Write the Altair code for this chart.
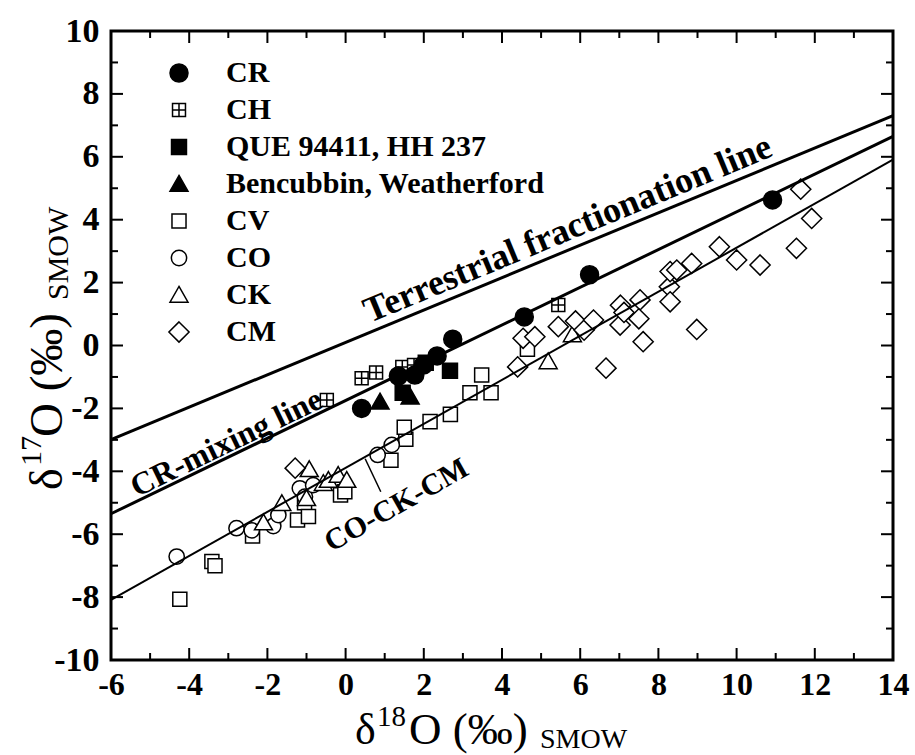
import math
import altair as alt
import pandas as pd

# ---------------- data ----------------
groups = ["CR", "CH", "QUE 94411, HH 237", "Bencubbin, Weatherford", "CV", "CO", "CK", "CM"]

cr_x = [0.41, 1.35, 1.77, 1.99, 2.34, 2.74, 4.57, 6.24, 10.92]
cr_y = [-2.00, -0.97, -0.94, -0.62, -0.33, 0.20, 0.91, 2.25, 4.63]

ch_x = [-0.48, 0.41, 0.78, 1.45, 1.75, 5.44]
ch_y = [-1.73, -1.04, -0.86, -0.68, -0.62, 1.29]

que_x = [1.46, 2.05, 2.67]
que_y = [-1.50, -0.55, -0.80]

ben_x = [0.88, 1.65]
ben_y = [-1.79, -1.63]

cv_x = [-4.24, -3.42, -3.34, -2.38, -1.23, -1.05, -0.95, -0.13, -0.02, 1.16, 1.54, 1.50,
        2.16, 2.68, 3.18, 3.72, 3.48, 4.65]
cv_y = [-8.07, -6.87, -7.00, -6.06, -5.55, -5.00, -5.44, -4.75, -4.65, -3.65, -2.98, -2.60,
        -2.42, -2.19, -1.50, -1.50, -0.94, -0.12]

co_x = [-4.32, -2.79, -2.40, -1.85, -1.72, -1.17, -1.04, -0.83, 0.82, 1.18]
co_y = [-6.71, -5.81, -5.88, -5.74, -5.39, -4.54, -4.81, -4.44, -3.48, -3.16]

ck_x = [-2.10, -1.63, -1.00, -0.93, -0.57, -0.44, -0.19, 0.03, 5.18, 5.80]
ck_y = [-5.63, -5.02, -4.86, -3.94, -4.38, -4.28, -4.12, -4.28, -0.51, 0.35]

cm_x = [-1.29, 4.40, 4.54, 4.84, 5.44, 5.88, 6.10, 6.34, 6.66, 7.02, 7.03, 7.12, 7.53, 7.50,
        7.61, 8.28, 8.30, 8.30, 8.47, 8.85, 8.98, 9.56, 10.00, 10.60, 11.53, 11.64, 11.92]
cm_y = [-3.90, -0.68, 0.23, 0.28, 0.60, 0.78, 0.49, 0.81, -0.72, 0.65, 1.28, 1.05, 1.45, 0.85,
        0.12, 1.87, 1.39, 2.35, 2.40, 2.61, 0.51, 3.14, 2.72, 2.56, 3.09, 4.97, 4.04]

# reference lines: slope and intercept
line_names = ["Terrestrial fractionation line", "CR-mixing line", "CO-CK-CM"]
line_slopes = [0.515, 0.60, 0.70]
line_intercepts = [0.10, -1.75, -3.89]
x_min, x_max = -6, 14
y_min, y_max = -10, 10

# annotation labels (data coordinates)
ann_text = ["Terrestrial fractionation line", "CR-mixing line", "CO-CK-CM"]
ann_x = [5.68, -3.05, 1.30]
ann_y = [3.70, -3.10, -5.08]

leader_x = [0.50, 0.90]
leader_y = [-3.60, -4.65]

x_tick_labels = list(range(-6, 15, 2))
y_tick_labels = list(range(-10, 11, 2))
x_minor = list(range(-5, 14, 2))
y_minor = list(range(-9, 10, 2))
x_major = list(range(-4, 13, 2))
y_major = list(range(-8, 9, 2))

# ---------------- layout ----------------
W, H = 782, 629
FONT = "Liberation Serif"

xs = alt.Scale(domain=[x_min, x_max], nice=False, zero=False)
ys = alt.Scale(domain=[y_min, y_max], nice=False, zero=False)

label_expr = "datum.value < 0 ? '-' + abs(datum.value) : '' + datum.value"

x_axis = alt.Axis(title=None, values=x_tick_labels, labelExpr=label_expr, ticks=False,
                  domain=False, grid=False, labelFont=FONT, labelFontSize=32,
                  labelFontWeight="bold", labelColor="black", labelPadding=9,
                  labelFlush=False, labelOverlap=False)
y_axis = alt.Axis(title=None, values=y_tick_labels, labelExpr=label_expr, ticks=False,
                  domain=False, grid=False, labelFont=FONT, labelFontSize=34,
                  labelFontWeight="bold", labelColor="black", labelPadding=12,
                  labelOverlap=False)


def X(field):
    return alt.X(field, scale=xs, axis=x_axis)


def Y(field):
    return alt.Y(field, scale=ys, axis=y_axis)


circ = "M-0.85,0A0.85,0.85,0,1,0,0.85,0A0.85,0.85,0,1,0,-0.85,0Z"
shape_range = [
    "circle",
    "M-0.72,-0.72L0.72,-0.72L0.72,0.72L-0.72,0.72Z M0,-0.72L0,0.72 M-0.72,0L0.72,0",
    "M-0.83,-0.83L0.83,-0.83L0.83,0.83L-0.83,0.83Z",
    "M0,-0.95L1,0.8L-1,0.8Z",
    "M-0.78,-0.78L0.78,-0.78L0.78,0.78L-0.78,0.78Z",
    circ,
    "M0,-0.95L1,0.8L-1,0.8Z",
    "M0,-1.12L1.12,0L0,1.12L-1.12,0Z",
]
fill_range = ["black", "white", "black", "black", "white", "white", "white", "white"]
stroke_range = ["black"] * len(groups)

leg = alt.Legend(title=None, orient="none", legendX=53, legendY=27, labelFont=FONT,
                 labelFontSize=30, labelFontWeight="bold", labelColor="black",
                 labelOffset=32, rowPadding=7, symbolSize=324, symbolStrokeColor="black",
                 symbolStrokeWidth=1.5, padding=0, labelLimit=600)

# ---------------- points ----------------
draw_order = [("CH", ch_x, ch_y), ("CV", cv_x, cv_y), ("CO", co_x, co_y), ("CK", ck_x, ck_y),
              ("CM", cm_x, cm_y), ("QUE 94411, HH 237", que_x, que_y),
              ("Bencubbin, Weatherford", ben_x, ben_y), ("CR", cr_x, cr_y)]
rows = []
for g, gx, gy in draw_order:
    for a, b in zip(gx, gy):
        rows.append({"g": g, "x": a, "y": b})
pts = pd.DataFrame(rows)

points = alt.Chart(pts).mark_point(strokeWidth=1.5, opacity=1, size=324).encode(
    x=X("x:Q"),
    y=Y("y:Q"),
    shape=alt.Shape("g:N", scale=alt.Scale(domain=groups, range=shape_range), legend=leg),
    fill=alt.Fill("g:N", scale=alt.Scale(domain=groups, range=fill_range), legend=leg),
    stroke=alt.Stroke("g:N", scale=alt.Scale(domain=groups, range=stroke_range), legend=leg),
)

layers = [points]

# ---------------- reference lines ----------------
widths = [3, 3, 2]
for name, m, b, w in zip(line_names, line_slopes, line_intercepts, widths):
    df = pd.DataFrame({"name": [name], "x0": [x_min], "x1": [x_max],
                       "y0": [m * x_min + b], "y1": [m * x_max + b]})
    layers.append(alt.Chart(df).mark_rule(color="black", strokeWidth=w).encode(
        x=X("x0:Q"), x2="x1:Q", y=Y("y0:Q"), y2="y1:Q"))

ldf = pd.DataFrame({"x0": [leader_x[0]], "x1": [leader_x[1]],
                    "y0": [leader_y[0]], "y1": [leader_y[1]]})
layers.append(alt.Chart(ldf).mark_rule(color="black", strokeWidth=1.5).encode(
    x=X("x0:Q"), x2="x1:Q", y=Y("y0:Q"), y2="y1:Q"))

# annotation texts rotated along their lines
ratio = (H / (y_max - y_min)) / (W / (x_max - x_min))
ann_sizes = [36, 32, 30]
for t, ax_, ay_, m, fs in zip(ann_text, ann_x, ann_y, line_slopes, ann_sizes):
    ang = 360 - math.degrees(math.atan(m * ratio))
    df = pd.DataFrame({"t": [t], "x": [ax_], "y": [ay_]})
    layers.append(alt.Chart(df).mark_text(font=FONT, fontSize=fs, fontWeight="bold",
                                          angle=ang, align="center", baseline="middle",
                                          color="black").encode(
        x=X("x:Q"), y=Y("y:Q"), text="t:N"))

# ---------------- inward ticks ----------------
for vals, ln in [(x_major, 12), (x_minor, 7)]:
    df = pd.DataFrame({"t": vals})
    base = alt.Chart(df).mark_rule(color="black", strokeWidth=2)
    layers.append(base.encode(x=X("t:Q"), y=alt.value(H), y2=alt.value(H - ln)))
    layers.append(base.encode(x=X("t:Q"), y=alt.value(0), y2=alt.value(ln)))
for vals, ln in [(y_major, 12), (y_minor, 7)]:
    df = pd.DataFrame({"t": vals})
    base = alt.Chart(df).mark_rule(color="black", strokeWidth=2)
    layers.append(base.encode(y=Y("t:Q"), x=alt.value(0), x2=alt.value(ln)))
    layers.append(base.encode(y=Y("t:Q"), x=alt.value(W), x2=alt.value(W - ln)))


# ---------------- axis titles (with super/subscripts) ----------------
def title_part(txt, px, py, size, angle=0):
    df = pd.DataFrame({"t": [txt]})
    return alt.Chart(df).mark_text(font=FONT, fontSize=size, align="left",
                                   baseline="alphabetic", angle=angle,
                                   color="black").encode(
        x=alt.value(px), y=alt.value(py), text="t:N")


ox, oy = 111, 31
x_title = [("δ", 355, 744, 44), ("18", 377, 726, 29), ("O (‰)", 409, 744, 45),
           ("SMOW", 540, 748, 28)]
for txt, px, py, s in x_title:
    layers.append(title_part(txt, px - ox, py - oy, s))
y_title = [("δ", 62, 490, 46), ("17", 41, 466, 30), ("O (‰)", 62, 437, 47),
           ("SMOW", 68, 300, 30)]
for txt, px, py, s in y_title:
    layers.append(title_part(txt, px - ox, py - oy, s, angle=270))

chart = alt.layer(*layers).properties(
    width=W, height=H,
    autosize=alt.AutoSizeParams(type="none"),
    padding={"left": 111, "top": 31, "right": 22, "bottom": 95},
    background="white",
).configure_view(stroke="black", strokeWidth=3)

chart.save("out.html", embed_options={"renderer": "svg", "actions": False})
